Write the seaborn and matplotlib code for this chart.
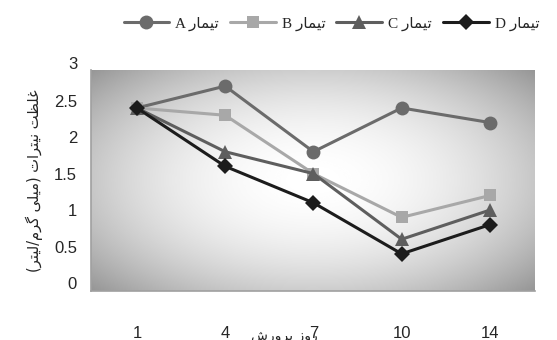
import numpy as np
import pandas as pd
import matplotlib
matplotlib.use("Agg")
import matplotlib.pyplot as plt
import seaborn as sns

# data
days = ["1", "4", "7", "10", "14"]
treat_a = [2.4, 2.7, 1.8, 2.4, 2.2]
treat_b = [2.4, 2.3, 1.5, 0.9, 1.2]
treat_c = [2.4, 1.8, 1.5, 0.6, 1.0]
treat_d = [2.4, 1.6, 1.1, 0.4, 0.8]
series_names = ["A", "B", "C", "D"]
yticks = [0, 0.5, 1, 1.5, 2, 2.5, 3]

# minimal arabic/persian shaping (matplotlib has no bidi / joining)
FORMS = {
    "\u0627": ("\uFE8D", "\uFE8E", None, None),
    "\u062A": ("\uFE95", "\uFE96", "\uFE97", "\uFE98"),
    "\u0631": ("\uFEAD", "\uFEAE", None, None),
    "\u0632": ("\uFEAF", "\uFEB0", None, None),
    "\u0634": ("\uFEB5", "\uFEB6", "\uFEB7", "\uFEB8"),
    "\u0638": ("\uFEC5", "\uFEC6", "\uFEC7", "\uFEC8"),
    "\u063A": ("\uFECD", "\uFECE", "\uFECF", "\uFED0"),
    "\u0644": ("\uFEDD", "\uFEDE", "\uFEDF", "\uFEE0"),
    "\u0645": ("\uFEE1", "\uFEE2", "\uFEE3", "\uFEE4"),
    "\u0646": ("\uFEE5", "\uFEE6", "\uFEE7", "\uFEE8"),
    "\u0648": ("\uFEED", "\uFEEE", None, None),
    "\u067E": ("\uFB56", "\uFB57", "\uFB58", "\uFB59"),
    "\u06AF": ("\uFB92", "\uFB93", "\uFB94", "\uFB95"),
    "\u06CC": ("\uFBFC", "\uFBFD", "\uFBFE", "\uFBFF"),
}
MIRROR = {"(": ")", ")": "("}


def rtl(text):
    out = []
    for i, ch in enumerate(text):
        if ch not in FORMS:
            out.append(MIRROR.get(ch, ch))
            continue
        prev = text[i - 1] if i > 0 else ""
        nxt = text[i + 1] if i + 1 < len(text) else ""
        join_prev = prev in FORMS and FORMS[prev][2] is not None
        join_next = FORMS[ch][2] is not None and nxt in FORMS
        iso, fin, ini, med = FORMS[ch]
        if join_prev and join_next:
            out.append(med)
        elif join_prev:
            out.append(fin)
        elif join_next:
            out.append(ini)
        else:
            out.append(iso)
    return "".join(reversed(out))


treat_word = "\u062A\u06CC\u0645\u0627\u0631"  # تیمار
ylabel_txt = "\u063A\u0644\u0638\u062A \u0646\u06CC\u062A\u0631\u0627\u062A (\u0645\u06CC\u0644\u06CC \u06AF\u0631\u0645/\u0644\u06CC\u062A\u0631)"
xlabel_txt = "\u0631\u0648\u0632 \u067E\u0631\u0648\u0631\u0634"

sns.set_style("white")
plt.rcParams["font.family"] = ["Liberation Sans", "DejaVu Sans"]

df = pd.DataFrame({"pos": range(len(days)), "A": treat_a, "B": treat_b,
                   "C": treat_c, "D": treat_d})

fig = plt.figure(figsize=(5.57, 3.4), dpi=100)
ax = fig.add_axes([0.1634, 0.144, 0.797, 0.650])

xlim = (-0.52, 4.51)
ylim = (-0.11, 2.92)

# radial grey gradient behind the plot
gx, gy = np.meshgrid(np.linspace(-1, 1, 300), np.linspace(-1, 1, 200))
r = np.sqrt((gx * 0.9) ** 2 + (gy * 0.85) ** 2)
shade = 1 - 0.27 * np.clip(r, 0, 1.5) ** 2
ax.imshow(shade, cmap="gray", vmin=0, vmax=1, extent=[*xlim, *ylim],
          aspect="auto", zorder=0, interpolation="bicubic")

styles = {
    "A": ("#6b6b6b", "o", 10),
    "B": ("#a8a8a8", "s", 9),
    "C": ("#5e5e5e", "^", 10),
    "D": ("#1c1c1c", "D", 8),
}
for name in series_names:
    color, marker, ms = styles[name]
    sns.lineplot(data=df, x="pos", y=name, ax=ax, color=color, marker=marker,
                 markersize=ms, markeredgewidth=0, linewidth=2.2,
                 label="%s %s" % (name, rtl(treat_word)), zorder=3)

ax.set_xlim(*xlim)
ax.set_ylim(*ylim)
ax.set_xticks(range(len(days)))
ax.set_xticklabels(days)
ax.set_yticks([t for t in yticks if t <= ylim[1]])
ax.set_yticklabels([("%g" % t) for t in yticks if t <= ylim[1]])
for t in yticks:
    if t > ylim[1]:
        ax.text(-0.031, t, "%g" % t, transform=ax.get_yaxis_transform(),
                ha="right", va="center", fontsize=12, clip_on=False)
ax.tick_params(axis="y", length=0, pad=10, labelsize=12)
ax.tick_params(axis="x", length=0, pad=25, labelsize=12)
ax.set_xlabel("")
ax.set_ylabel(rtl(ylabel_txt), fontsize=10.5, family=["DejaVu Sans"], labelpad=8)

for s in ["top", "right"]:
    ax.spines[s].set_visible(False)
for s in ["left", "bottom"]:
    ax.spines[s].set_color("#a0a0a0")
    ax.spines[s].set_linewidth(1.2)

fig.text(0.51, 0.012, rtl(xlabel_txt), fontsize=10, ha="center", va="center",
         family=["DejaVu Sans"])

handles, labels = ax.get_legend_handles_labels()
ax.get_legend().remove()
fig.legend(handles, labels, loc="center", bbox_to_anchor=(0.595, 0.93),
           ncol=4, frameon=False, handlelength=3.0, columnspacing=0.7,
           handletextpad=0.4,
           prop={"family": ["Liberation Serif", "DejaVu Sans"], "size": 11})

fig.savefig("out.png", dpi=100)
